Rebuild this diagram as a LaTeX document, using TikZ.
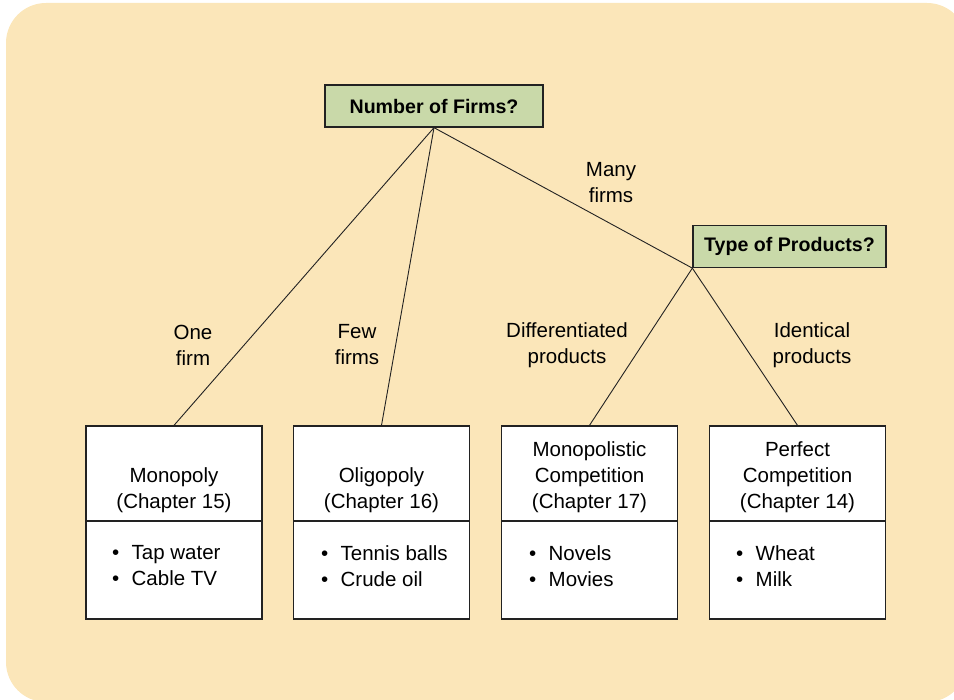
\documentclass[tikz,border=0pt]{standalone}
\usepackage{fontspec}
\setmainfont{Liberation Sans}

\definecolor{fond}{HTML}{FBE6B9}
\definecolor{vert}{HTML}{C9D9A9}
\definecolor{trait}{HTML}{222222}

\tikzset{
  question/.style={draw=trait, line width=1.3pt, fill=vert, minimum height=42, inner sep=0,
    font=\fontsize{19.6}{23}\selectfont\bfseries},
  marche/.style={draw=trait, line width=1.3pt, fill=white, minimum width=176, inner sep=0},
  branche/.style={draw=trait, line width=0.9pt},
  texte/.style={font=\fontsize{20.5}{26}\selectfont, align=center, inner sep=0},
  liste/.style={font=\fontsize{20.5}{26}\selectfont, align=left, inner sep=0, anchor=north west},
}

\begin{document}
\begin{tikzpicture}[x=1pt, y=-1pt]

% Fond
\useasboundingbox (0,0) rectangle (954,700);
\fill[fond, rounded corners=40] (6,3) rectangle (967,702);

% Questions
\node[question, minimum width=218] (firmes) at (434,106) {Number of Firms?};
\node[question, minimum width=193] (produits) at (789.5,246.5) {Type of Products?};

% Marches
\node[marche, minimum height=95] (mono) at (174,473.5) {};
\node[marche, minimum height=98] (monoL) at (174,570) {};
\node[marche, minimum height=95] (oli) at (381.5,473.5) {};
\node[marche, minimum height=98] (oliL) at (381.5,570) {};
\node[marche, minimum height=95] (mcomp) at (589.5,473.5) {};
\node[marche, minimum height=98] (mcompL) at (589.5,570) {};
\node[marche, minimum height=95] (pcomp) at (797.5,473.5) {};
\node[marche, minimum height=98] (pcompL) at (797.5,570) {};

% Branches
\draw[branche] (firmes.south) -- (mono.north);
\draw[branche] (firmes.south) -- (oli.north);
\draw[branche] (firmes.south) -- (produits.south west);
\draw[branche] (produits.south west) -- (mcomp.north);
\draw[branche] (produits.south west) -- (pcomp.north);

% Etiquettes
\node[texte] (un) at (193,345) {One\\firm};
\node[texte] (peu) at (357,345) {Few\\firms};
\node[texte] (beaucoup) at (611,183) {Many\\firms};
\node[texte] (diff) at (567,345) {Differentiated\\products};
\node[texte] (ident) at (812,345) {Identical\\products};

% Noms
\node[texte, anchor=south] (monoT) at (174,513) {Monopoly\\(Chapter 15)};
\node[texte, anchor=south] (oliT) at (381.5,513) {Oligopoly\\(Chapter 16)};
\node[texte, anchor=south] (mcompT) at (589.5,513) {Monopolistic\\Competition\\(Chapter 17)};
\node[texte, anchor=south] (pcompT) at (797.5,513) {Perfect\\Competition\\(Chapter 14)};

% Exemples
\node[liste] (monoE) at (112,545.5) {\textbullet\hspace{0.6em}Tap water\\\textbullet\hspace{0.6em}Cable TV};
\node[liste] (oliE) at (321,545.5) {\textbullet\hspace{0.6em}Tennis balls\\\textbullet\hspace{0.6em}Crude oil};
\node[liste] (mcompE) at (529,545.5) {\textbullet\hspace{0.6em}Novels\\\textbullet\hspace{0.6em}Movies};
\node[liste] (pcompE) at (736,545.5) {\textbullet\hspace{0.6em}Wheat\\\textbullet\hspace{0.6em}Milk};

\end{tikzpicture}
\end{document}
